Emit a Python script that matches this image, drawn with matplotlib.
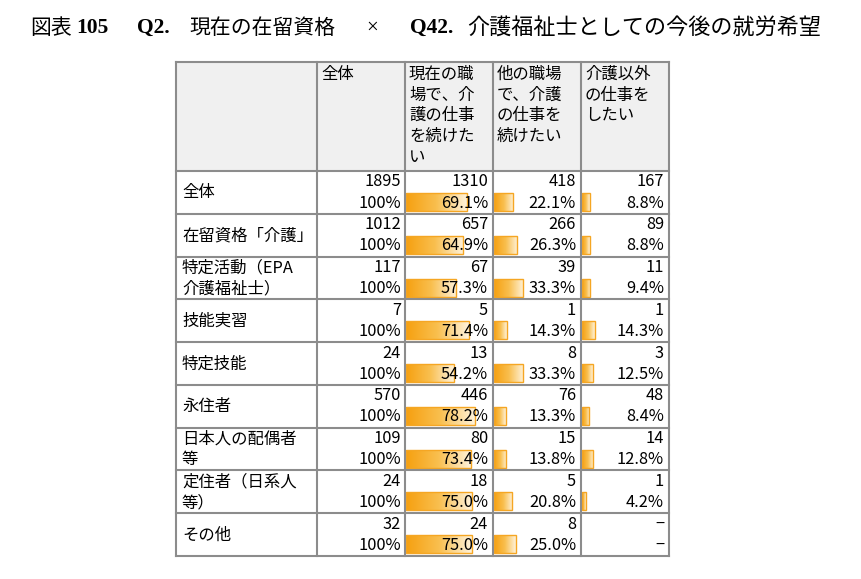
import numpy as np
import matplotlib.pyplot as plt
from matplotlib.patches import Rectangle
from matplotlib.colors import LinearSegmentedColormap

# データ
row_labels = ['全体', '在留資格「介護」', '特定活動（EPA\n介護福祉士）', '技能実習', '特定技能',
              '永住者', '日本人の配偶者\n等', '定住者（日系人\n等）', 'その他']
col_labels = ['全体', '現在の職\n場で、介\n護の仕事\nを続けた\nい', '他の職場\nで、介護\nの仕事を\n続けたい',
              '介護以外\nの仕事を\nしたい']
totals = [1895, 1012, 117, 7, 24, 570, 109, 24, 32]
n_current = [1310, 657, 67, 5, 13, 446, 80, 18, 24]
n_other = [418, 266, 39, 1, 8, 76, 15, 5, 8]
n_noncare = [167, 89, 11, 1, 3, 48, 14, 1, None]
pct_current = [69.1, 64.9, 57.3, 71.4, 54.2, 78.2, 73.4, 75.0, 75.0]
pct_other = [22.1, 26.3, 33.3, 14.3, 33.3, 13.3, 13.8, 20.8, 25.0]
pct_noncare = [8.8, 8.8, 9.4, 14.3, 12.5, 8.4, 12.8, 4.2, None]

JP = ['Noto Sans CJK JP', 'DejaVu Sans']
SERIF = ['Liberation Serif', 'Noto Sans CJK JP']

fig = plt.figure(figsize=(8.61, 5.79), dpi=100)
ax = fig.add_axes([0, 0, 1, 1])
ax.axis('off')

# レイアウト（ピクセル座標）
col_x = [176, 317, 405, 493, 581, 669]
head_top, head_bot = 62, 171
row_h = (556 - head_bot) / len(row_labels)
row_y = [head_bot + i * row_h for i in range(len(row_labels) + 1)]
fs = 11.8
line_c = '#8c8c8c'

# タイトル
ty = 28
ax.text(30, ty, '図表', fontsize=15, family=JP, va='center', ha='left')
ax.text(76, ty, '105', fontsize=15.5, family=SERIF, weight='bold', va='center', ha='left')
ax.text(137, ty, 'Q2.', fontsize=15.5, family=SERIF, weight='bold', va='center', ha='left')
ax.text(189, ty, '現在の在留資格', fontsize=15, family=JP, va='center', ha='left')
ax.text(366, ty, '×', fontsize=15, family=SERIF, va='center', ha='left')
ax.text(410, ty, 'Q42.', fontsize=15.5, family=SERIF, weight='bold', va='center', ha='left')
ax.text(467, ty, '介護福祉士としての今後の就労希望', fontsize=15.9, family=JP, va='center', ha='left')

# ヘッダー背景
ax.add_patch(Rectangle((col_x[0], head_top), col_x[-1] - col_x[0], head_bot - head_top,
                       facecolor='#f0f0f0', edgecolor='none', zorder=0))

for j, lab in enumerate(col_labels):
    ax.text(col_x[j + 1] + 4, head_top + 4, lab, fontsize=fs, family=JP, va='top', ha='left',
            linespacing=1.28)

cmap = LinearSegmentedColormap.from_list('bar', ['#f6a010', '#f9bf4f', '#fff3dc'])
grad = np.linspace(0, 1, 256).reshape(1, -1)

counts = [n_current, n_other, n_noncare]
pcts = [pct_current, pct_other, pct_noncare]

for i, lab in enumerate(row_labels):
    top = row_y[i]
    if '\n' in lab:
        l1, l2 = lab.split('\n')
        ax.text(col_x[0] + 6, top + 11, l1, fontsize=fs, family=JP, va='center', ha='left')
        ax.text(col_x[0] + 6, top + 32, l2, fontsize=fs, family=JP, va='center', ha='left')
    else:
        ax.text(col_x[0] + 6, top + 22, lab, fontsize=fs, family=JP, va='center', ha='left')

    # 全体列
    ax.text(col_x[2] - 4, top + 11, str(totals[i]), fontsize=fs, family=JP, va='center', ha='right')
    ax.text(col_x[2] - 4, top + 32, '100%', fontsize=fs, family=JP, va='center', ha='right')

    for k in range(3):
        x0, x1 = col_x[k + 2], col_x[k + 3]
        n, p = counts[k][i], pcts[k][i]
        if p is not None:
            w = (x1 - x0) * p / 100
            b0, b1 = top + 22, top + 40
            ax.imshow(grad, extent=[x0 + 1, x0 + 1 + w, b1, b0], cmap=cmap, aspect='auto', zorder=1)
            ax.add_patch(Rectangle((x0 + 1, b0), w, b1 - b0, facecolor='none',
                                   edgecolor='#f5a623', lw=1.0, zorder=2))
            ax.text(x1 - 5, top + 11, str(n), fontsize=fs, family=JP, va='center', ha='right', zorder=3)
            ax.text(x1 - 5, top + 32, f'{p:.1f}%', fontsize=fs, family=JP, va='center', ha='right',
                    zorder=3)
        else:
            ax.text(x1 - 5, top + 11, '−', fontsize=fs, family=JP, va='center', ha='right')
            ax.text(x1 - 5, top + 32, '−', fontsize=fs, family=JP, va='center', ha='right')

# 罫線
for x in col_x:
    ax.plot([x, x], [head_top, row_y[-1]], color=line_c, lw=1.5, zorder=4)
ax.plot([col_x[0], col_x[-1]], [head_top, head_top], color=line_c, lw=1.5, zorder=4)
for y in row_y:
    ax.plot([col_x[0], col_x[-1]], [y, y], color=line_c, lw=1.5, zorder=4)

ax.set_xlim(0, 861)
ax.set_ylim(579, 0)

plt.savefig('out.png', dpi=100)
